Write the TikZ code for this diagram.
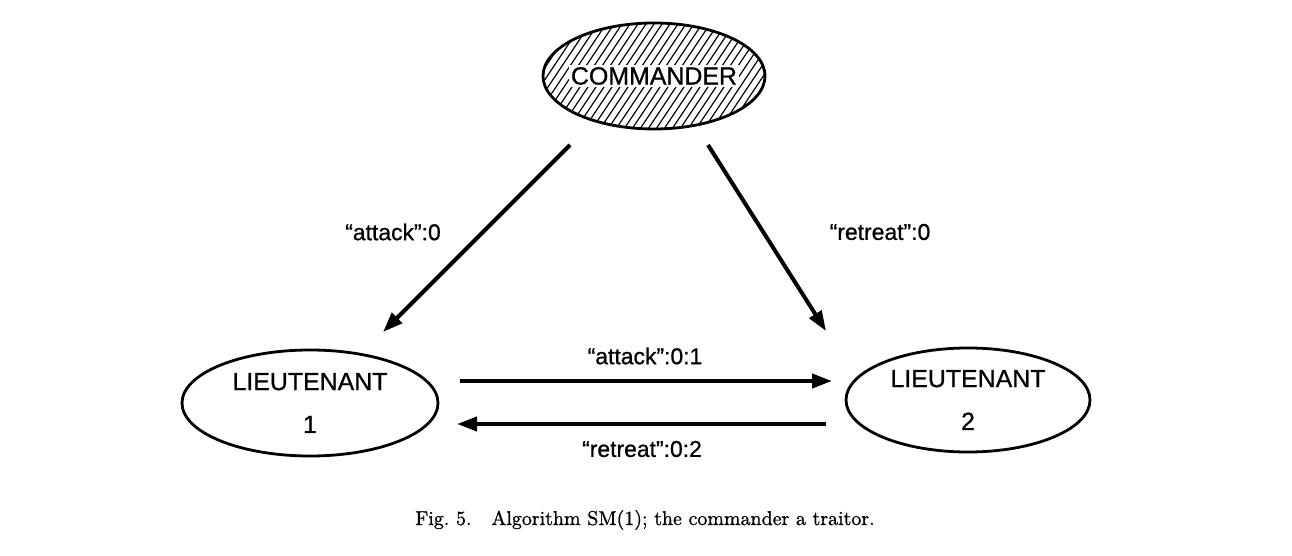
\documentclass[tikz,border=0pt]{standalone}
\usepackage{fontspec}
\setsansfont{Liberation Sans}
\newfontfamily\heavysans[FakeBold=0.8,Ligatures=TeX]{Liberation Sans}
\newfontfamily\capfont[FakeBold=1,Ligatures=TeX]{Latin Modern Roman}
\usetikzlibrary{arrows.meta,shapes.geometric}
\begin{document}
\begin{tikzpicture}[x=0.5bp,y=-0.5bp,
  ell/.style={ellipse,draw,line width=1.4bp,inner sep=0pt,align=center,
    font=\heavysans\fontsize{12.5}{21.5}\selectfont},
  hatch/.style={line width=0.6bp},
  conn/.style={line width=2bp,-{Triangle[length=10bp,width=7bp]}},
  lbl/.style={font=\heavysans\fontsize{11.5}{14}\selectfont,inner sep=0pt}]
\useasboundingbox (0,0) rectangle (1292,556);
\begin{scope}
  \clip (654,76) ellipse [x radius=55.5bp, y radius=26.5bp];
  \foreach \i in {0,...,40} {
    \draw[hatch] (460+\i*8,135) -- ++(80,-120);
  }
\end{scope}
\node[ell,inner xsep=-6bp,minimum width=111bp,minimum height=53bp] (C) at (654,76)
  {\setlength{\fboxsep}{1.2pt}\colorbox{white}{COMMANDER}};
\node[ell,minimum width=128bp,minimum height=53bp] (L1) at (310,403) {LIEUTENANT\\1};
\node[ell,minimum width=122bp,minimum height=52bp] (L2) at (968,400) {LIEUTENANT\\2};
\coordinate (a1s) at (570,145); \coordinate (a1e) at (383,332);
\coordinate (a2s) at (708,145); \coordinate (a2e) at (826,331);
\coordinate (a3s) at (460,381); \coordinate (a3e) at (832,381);
\coordinate (a4s) at (826,424); \coordinate (a4e) at (457,424);
\draw[conn] (a1s) -- (a1e);
\draw[conn] (a2s) -- (a2e);
\draw[conn] (a3s) -- (a3e);
\draw[conn] (a4s) -- (a4e);
\node[lbl] (t1) at (393,232) {``attack'':0};
\node[lbl] (t2) at (880,232) {``retreat'':0};
\node[lbl] (t3) at (645,356) {``attack'':0:1};
\node[lbl] (t4) at (642,449) {``retreat'':0:2};
\node[font=\capfont\fontsize{10}{12}\selectfont,inner sep=0pt] (cap) at (645,520) {Fig.~5.\quad Algorithm SM(1); the commander a traitor.};
\end{tikzpicture}
\end{document}
